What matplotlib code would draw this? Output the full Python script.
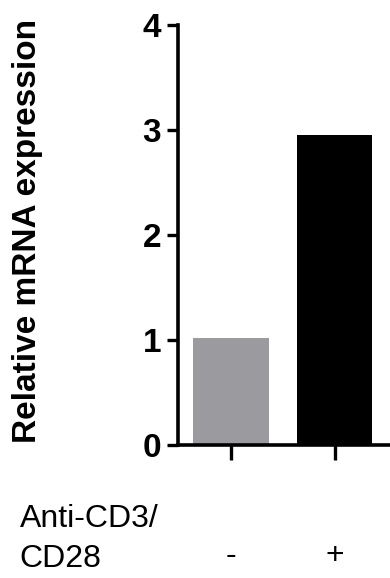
import matplotlib
matplotlib.use("Agg")
import matplotlib.pyplot as plt

plt.rcParams['font.family'] = ['Liberation Sans', 'DejaVu Sans']

groups = ["-", "+"]
values = [1.02, 2.95]
colors = ["#9b9a9f", "#000000"]
y_ticks = [0, 1, 2, 3, 4]

fig = plt.figure(figsize=(3.9, 5.78), dpi=100)
ax = fig.add_axes([0.456, 0.230, 0.62, 0.727])

x = range(len(values))
ax.bar(x, values, width=0.73, color=colors)

ax.set_ylim(0, 4)
ax.set_xlim(-0.51, 1.82)
ax.set_yticks(y_ticks)
ax.set_yticklabels([str(t) for t in y_ticks], fontsize=24, fontweight='bold')
ax.set_xticks(list(x))
ax.set_xticklabels([])

for s in ['top', 'right']:
    ax.spines[s].set_visible(False)
for s in ['left', 'bottom']:
    ax.spines[s].set_linewidth(2.6)
ax.tick_params(axis='y', length=8, width=2.4, pad=4)
ax.tick_params(axis='x', length=11, width=2.4)

ax.set_ylabel("Relative mRNA expression", fontsize=24, fontweight='bold', va='center')
ax.yaxis.set_label_coords(-0.62, 0.51)

# row labels under the axis
fig.text(0.05, 0.007, "Anti-CD3/\nCD28", fontsize=23, ha='left', va='bottom', linespacing=1.42)
for xi, g in zip(x, groups):
    fx = fig.transFigure.inverted().transform(ax.transData.transform((xi, 0)))[0]
    fig.text(fx, 0.012, g, fontsize=23, ha='center', va='bottom')

fig.savefig("out.png", dpi=100)
